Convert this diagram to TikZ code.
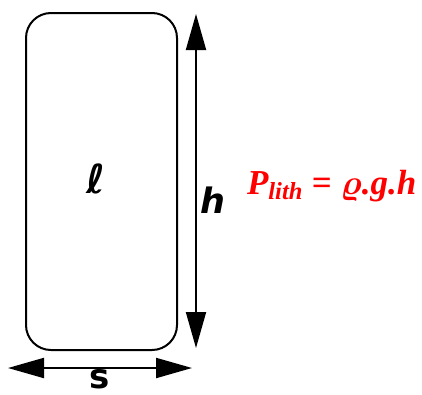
\documentclass[tikz,border=0pt]{standalone}
\usepackage{fix-cm}
\usepackage{fontspec}
\usepackage{bm}
\setmainfont{Liberation Serif}
\newfontfamily\lblfont{DejaVu Sans}
\usetikzlibrary{arrows.meta}
\begin{document}
\begin{tikzpicture}[x=1pt, y=-1pt, >={Triangle[length=36pt,width=20pt]}, line width=2pt]
  \useasboundingbox (0,0) rectangle (422,394);
  \node[draw, rounded corners=25pt, minimum width=151pt, minimum height=337pt, inner sep=0pt] (box) at (101.5,181.5) {};
  \node[font=\lblfont\fontsize{40}{40}\selectfont\bfseries\itshape, inner sep=0pt, anchor=base] (ell) at (96,193) {ℓ};
  % height
  \coordinate (htop) at (196,14);
  \coordinate (hbot) at (196,348);
  \draw[<->] (htop) -- (hbot);
  \node[font=\lblfont\fontsize{35}{35}\selectfont\bfseries\itshape, inner sep=0pt, anchor=base] (h) at (213,213) {h};
  % width
  \coordinate (sleft) at (8,368);
  \coordinate (sright) at (192,368);
  \draw[<->] (sleft) -- (sright);
  \node[font=\lblfont\fontsize{34}{34}\selectfont\bfseries, anchor=base, inner sep=0pt] (s) at (100,388) {s};
  % lithostatic pressure
  \node[red, anchor=west, inner sep=0pt, font=\fontsize{35}{35}\selectfont\bfseries\itshape] (plith) at (246,186) {P\textsubscript{lith} = $\bm{\varrho}$.g.h};
\end{tikzpicture}
\end{document}
